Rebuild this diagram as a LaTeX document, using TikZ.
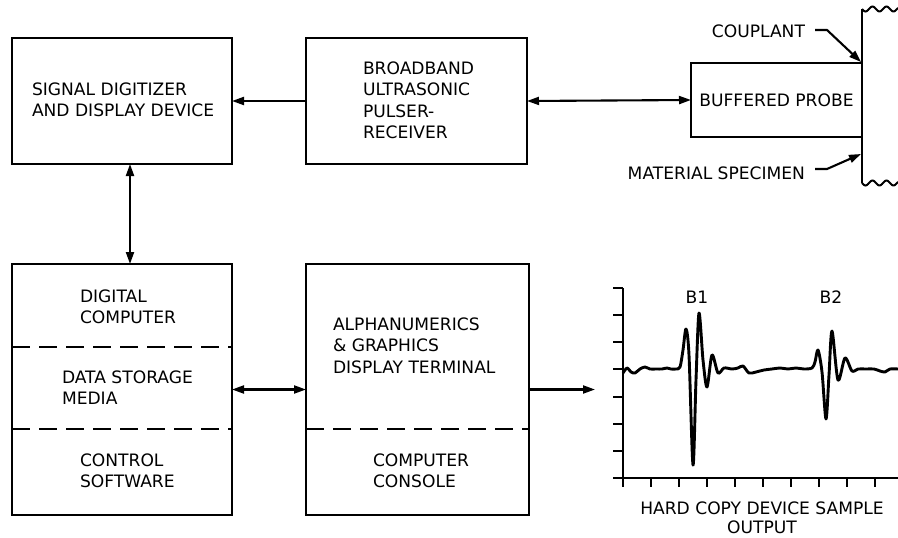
\documentclass[tikz,border=0pt]{standalone}
\usepackage{fontspec}
\setmainfont{DejaVu Sans}
\usetikzlibrary{arrows.meta}
\tikzset{
  box/.style={draw, line width=2.9pt, inner sep=0pt, outer sep=0pt},
  lbl/.style={inner sep=0pt, outer sep=0pt, align=left, anchor=north west,
    font=\fontsize{17.1}{21.3}\selectfont},
  txt/.style={inner sep=0pt, outer sep=0pt, font=\fontsize{17.1}{21.3}\selectfont},
  tip/.tip={Triangle[length=12pt,width=8pt]},
  conn/.style={line width=2.1pt, -tip},
  dconn/.style={line width=2.1pt, tip-tip},
  sep/.style={line width=2.8pt, dash pattern=on 18pt off 9pt},
}
\begin{document}
\begin{tikzpicture}[x=1pt,y=-1pt]
\useasboundingbox (0,0) rectangle (898,538);
% boxes
\node[box, minimum width=220pt, minimum height=126pt] (digit) at (122,101) {};
\node[box, minimum width=221pt, minimum height=126pt] (pulser) at (416.5,101) {};
\node[box, minimum width=171pt, minimum height=74pt] (probe) at (776.5,100) {};
\node[box, minimum width=220pt, minimum height=251pt] (comp) at (122,389.5) {};
\node[box, minimum width=223pt, minimum height=251pt] (term) at (417.5,389.5) {};
% dashed separators
\draw[sep] (12,347) -- (232,347);
\draw[sep] (12,429) -- (232,429);
\draw[sep] (306,429) -- (529,429);
% texts
\node[lbl] (tdigit) at (32,83) {SIGNAL DIGITIZER\\AND DISPLAY DEVICE};
\node[lbl] (tpulser) at (363,62) {BROADBAND\\ULTRASONIC\\PULSER-\\RECEIVER};
\node[txt] (tprobe) at (probe.center) {BUFFERED PROBE};
\node[lbl] (tcomp) at (80,290) {DIGITAL\\COMPUTER};
\node[lbl] (tstore) at (62,371) {DATA STORAGE\\MEDIA};
\node[lbl] (tsoft) at (80,454) {CONTROL\\SOFTWARE};
\node[lbl] (tterm) at (333,318) {ALPHANUMERICS\\\& GRAPHICS\\DISPLAY TERMINAL};
\node[lbl] (tcons) at (373,454) {COMPUTER\\CONSOLE};
% connectors
\coordinate (vx) at (130,0);
\draw[conn] (pulser.west) -- (digit.east);
\draw[dconn] (pulser.east) -- (probe.west);
\draw[dconn] (digit.south -| vx) -- (comp.north -| vx);
\draw[dconn] (comp.east) -- (term.east -| term.west);
\coordinate (gin) at (595,389.5);
\draw[conn] (term.east) -- (gin);
% specimen
\draw[line width=2.4pt] (862,9) -- (862,183);
\draw[line width=2pt, domain=0:36, samples=60, smooth] plot ({862+\x},{9+2.5*sin(\x*360/14)});
\draw[line width=2pt, domain=0:36, samples=60, smooth] plot ({862+\x},{183+2.5*sin(\x*360/14)});
% couplant & specimen labels
\node[txt, anchor=base east] (tcoup) at (805,37) {COUPLANT};
\node[txt, anchor=base east] (tmat) at (805,179) {MATERIAL SPECIMEN};
\coordinate (c1) at (815,30);
\coordinate (c2) at (827,30);
\coordinate (c3) at (861,62);
\draw[line width=2.1pt, -tip] (c1) -- (c2) -- (c3);
\coordinate (m1) at (815,169);
\coordinate (m2) at (827,169);
\coordinate (m3) at (861,154);
\draw[line width=2.1pt, -tip] (m1) -- (m2) -- (m3);
% graph axes
\draw[line width=2.1pt] (623,288) -- (623,478) -- (898,478);
\foreach \y in {288,315,342,369,397,424,451,478} \draw[line width=2.1pt] (613,\y) -- (623,\y);
\foreach \x in {623,651,679,707,735,763,791,819,847,875} \draw[line width=2.1pt] (\x,478) -- (\x,487);
% waveform
\draw[line width=2.9pt, line join=round] plot[smooth, tension=0.5] coordinates {
(623,373) (627,368) (631,372) (635,373) (640,369) (645,367) (650,369) (656,369) (662,369) (667,368) (671,369) (676,369) (680,367)
(683,350) (686,329) (689,355) (693,465) (696,380) (699,313) (703,360) (707,387) (712,355) (718,373) (724,368) (732,369) (738,368) (743,366) (749,373) (756,372) (764,370) (772,369) (780,368) (788,369) (796,368) (804,369) (812,368)
(815,362) (818,350) (822,372) (826,419) (829,375) (832,331) (838,380) (845,358) (852,371) (858,369) (866,369) (874,369) (880,371) (885,372) (890,369) (898,369)};
\node[txt] (b1) at (697,297) {B1};
\node[txt] (b2) at (831,297) {B2};
\node[txt, anchor=base] (thc) at (762,514) {HARD COPY DEVICE SAMPLE};
\node[txt, anchor=base] (tout) at (762,533) {OUTPUT};
\end{tikzpicture}
\end{document}
